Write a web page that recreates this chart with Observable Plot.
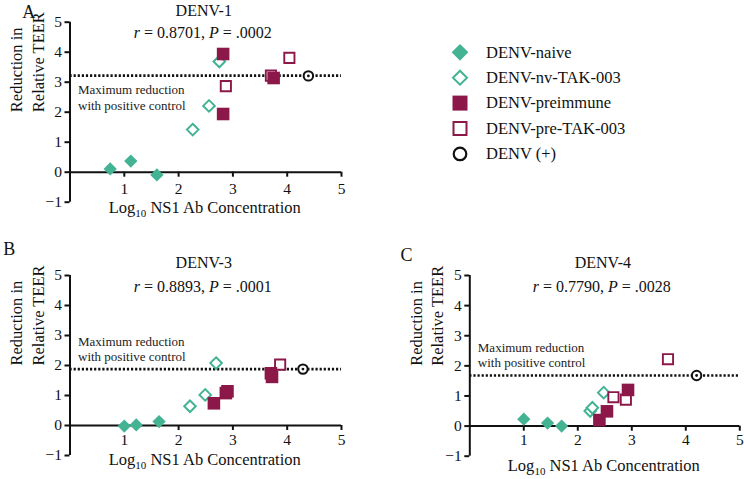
<!DOCTYPE html>
<html><head><meta charset="utf-8">
<script src="https://cdn.jsdelivr.net/npm/d3@7"></script>
<script src="https://cdn.jsdelivr.net/npm/@observablehq/plot@0.6"></script>
<style>
body{margin:0;background:#fff;}
#wrap{position:relative;width:744px;height:479px;font-family:'Times New Roman',Tinos,serif;color:#111;overflow:hidden;}
svg text{font-family:'Times New Roman',Tinos,serif;}
</style></head><body><div id="wrap"></div>
<script>
// ---------- data ----------
const seriesNames = ["DENV-naive", "DENV-nv-TAK-003", "DENV-preimmune", "DENV-pre-TAK-003", "DENV (+)"];
const panelLetters = ["A", "B", "C"];
const panelTitles = ["DENV-1", "DENV-3", "DENV-4"];
const panelR = ["0.8701", "0.8893", "0.7790"];
const panelP = [".0002", ".0001", ".0028"];
const maxReduction = [3.22, 1.88, 1.68];
const xTicks = [1, 2, 3, 4, 5];
const yTicks = [-1, 0, 1, 2, 3, 4, 5];
const xLabel = "Log10 NS1 Ab Concentration";
const yLabel = "Reduction in\nRelative TEER";
const annotation = "Maximum reduction\nwith positive control";

// [log10 NS1 Ab concentration, reduction in relative TEER]
const denv1Naive = [[0.74, 0.11], [1.12, 0.37], [1.60, -0.09]];
const denv1NvTak = [[2.26, 1.42], [2.56, 2.21], [2.75, 3.69]];
const denv1Preimmune = [[2.82, 3.94], [2.82, 1.94], [3.75, 3.14]];
const denv1PreTak = [[2.87, 2.87], [3.70, 3.22], [4.04, 3.81]];
const denv1Pos = [[4.39, 3.21]];

const denv3Naive = [[1.00, -0.02], [1.22, 0.02], [1.64, 0.13]];
const denv3NvTak = [[2.21, 0.64], [2.49, 1.02], [2.69, 2.08]];
const denv3Preimmune = [[2.65, 0.74], [2.87, 1.08], [2.90, 1.14], [3.70, 1.74], [3.72, 1.62]];
const denv3PreTak = [[3.87, 2.03]];
const denv3Pos = [[4.29, 1.88]];

const denv4Naive = [[1.00, 0.23], [1.44, 0.10], [1.70, 0.00]];
const denv4NvTak = [[2.23, 0.50], [2.27, 0.61], [2.48, 1.11]];
const denv4Preimmune = [[2.40, 0.20], [2.54, 0.49], [2.93, 1.20]];
const denv4PreTak = [[2.66, 0.96], [2.89, 0.88], [3.67, 2.22]];
const denv4Pos = [[4.20, 1.68]];

// ---------- styles / layout ----------
const FONT = "'Times New Roman', Tinos, serif";
const teal = "#43b394";
const maroon = "#8b1849";
const panelData = [
  [denv1Naive, denv1NvTak, denv1Preimmune, denv1PreTak, denv1Pos],
  [denv3Naive, denv3NvTak, denv3Preimmune, denv3PreTak, denv3Pos],
  [denv4Naive, denv4NvTak, denv4Preimmune, denv4PreTak, denv4Pos]
];
const layout = [
  {left: 0, top: 0, width: 372, height: 240, ml: 69.5, mr: 31, yTop: 21.7, yBottom: 201.7, y0: 171.7,
   titleDy: -6.7, statDy: 15.6, xTickPad: 5.4, xLabelDy: 40.6, annBelow: true, letterDx: -47.8, letterDy: -4.4},
  {left: 0, top: 240, width: 372, height: 239, ml: 69.5, mr: 31, yTop: 35, yBottom: 215, y0: 185,
   titleDy: -7.7, statDy: 16.7, xTickPad: 3, xLabelDy: 39, annBelow: false, letterDx: -66.8, letterDy: -21},
  {left: 400, top: 240, width: 344, height: 239, ml: 69.3, mr: 4.7, yTop: 35, yBottom: 215.7, y0: 185.7,
   titleDy: -7.7, statDy: 16.7, xTickPad: 3, xLabelDy: 44.3, annBelow: false, letterDx: -69.3, letterDy: -15}
];

const wrap = document.getElementById("wrap");
const X = d => d[0], Y = d => d[1];

layout.forEach((L, i) => {
  const [naive, nvTak, preimmune, preTak, pos] = panelData[i];
  const chart = Plot.plot({
    width: L.width,
    height: L.height,
    marginLeft: L.ml,
    marginRight: L.mr,
    marginTop: L.yTop,
    marginBottom: L.height - L.y0,
    x: {domain: [0, 5], axis: null},
    y: {domain: [yTicks[0], yTicks[yTicks.length - 1]], range: [L.yBottom, L.yTop], axis: null},
    style: {fontFamily: FONT, fontSize: "15px", color: "#111", background: "transparent", overflow: "visible"},
    marks: [
      Plot.ruleX([0], {y1: yTicks[0], y2: yTicks[yTicks.length - 1], stroke: "#111", strokeWidth: 2}),
      Plot.ruleY([0], {stroke: "#111", strokeWidth: 2}),
      Plot.axisY(yTicks, {tickSize: 5, tickPadding: 3, strokeWidth: 2, fontSize: 15.5, fontFamily: FONT, label: null}),
      Plot.axisX(xTicks, {tickSize: 5, tickPadding: L.xTickPad, strokeWidth: 2, fontSize: 15.5, fontFamily: FONT, label: null}),
      Plot.ruleY([maxReduction[i]], {stroke: "#111", strokeWidth: 2.6, strokeDasharray: "2.2,1.9"}),
      Plot.text([annotation], {x: 0, y: maxReduction[i], dx: 8, dy: L.annBelow ? 7.8 : -8, fontFamily: FONT,
        textAnchor: "start", lineAnchor: L.annBelow ? "top" : "bottom", lineHeight: 1.2, fontSize: 13, fill: "#222"}),
      Plot.text([panelTitles[i]], {frameAnchor: "top", dx: -2, dy: L.titleDy, lineAnchor: "bottom", fontSize: 16, fontFamily: FONT}),
      Plot.text([`r = ${panelR[i]}, P = ${panelP[i]}`], {frameAnchor: "top", dx: -3, dy: L.statDy, lineAnchor: "bottom", fontSize: 16, fontFamily: FONT}),
      Plot.text([xLabel], {frameAnchor: "bottom", dx: -1, dy: L.xLabelDy, lineAnchor: "bottom", fontSize: 16.5, fontFamily: FONT}),
      Plot.text([yLabel], {frameAnchor: "left", dx: -43.8, dy: 15, rotate: -90, lineHeight: 1.28, fontSize: 16.5, fontFamily: FONT}),
      Plot.text([panelLetters[i]], {frameAnchor: "top-left", dx: L.letterDx, dy: L.letterDy, lineAnchor: "bottom", textAnchor: "start", fontSize: 18, fontFamily: FONT}),
      Plot.dot(naive, {x: X, y: Y, symbol: "diamond2", r: 6.0, fill: teal, stroke: "none"}),
      Plot.dot(nvTak, {x: X, y: Y, symbol: "diamond2", r: 5.2, fill: "white", stroke: teal, strokeWidth: 2}),
      Plot.dot(preTak, {x: X, y: Y, symbol: "square", r: 5.75, fill: "white", stroke: maroon, strokeWidth: 1.9}),
      Plot.dot(preimmune, {x: X, y: Y, symbol: "square", r: 7.1, fill: maroon, stroke: "none"}),
      Plot.dot(pos, {x: X, y: Y, symbol: "circle", r: 4.7, fill: "white", stroke: "#111", strokeWidth: 2}),
      Plot.dot(pos, {x: X, y: Y, symbol: "circle", r: 1.4, fill: "#111", stroke: "none"})
    ]
  });
  chart.style.position = "absolute";
  chart.style.left = L.left + "px";
  chart.style.top = L.top + "px";
  // italic r / P and subscript 10
  d3.select(chart).selectAll("text").each(function () {
    const t = this.textContent;
    if (t === `r = ${panelR[i]}, P = ${panelP[i]}`) {
      const s = d3.select(this).text(null);
      s.append("tspan").attr("font-style", "italic").text("r");
      s.append("tspan").text(` = ${panelR[i]}, `);
      s.append("tspan").attr("font-style", "italic").text("P");
      s.append("tspan").text(` = ${panelP[i]}`);
    } else if (t === xLabel) {
      const s = d3.select(this).text(null);
      s.append("tspan").text("Log");
      s.append("tspan").attr("dy", 4).attr("font-size", 11).text("10");
      s.append("tspan").attr("dy", -4).text(" NS1 Ab Concentration");
    }
  });
  wrap.appendChild(chart);
});

// ---------- legend ----------
const legendStyles = [
  {symbol: d3.symbolDiamond2, size: 177, fill: teal, stroke: "none", sw: 0},
  {symbol: d3.symbolDiamond2, size: 125, fill: "white", stroke: teal, sw: 2},
  {symbol: d3.symbolSquare, size: 225, fill: maroon, stroke: "none", sw: 0},
  {symbol: d3.symbolSquare, size: 169, fill: "white", stroke: maroon, sw: 2},
  {symbol: d3.symbolCircle, size: Math.PI * 6.3 * 6.3, fill: "white", stroke: "#111", sw: 2.2}
];
const leg = d3.select(wrap).append("svg")
  .attr("width", 300).attr("height", 150)
  .style("position", "absolute").style("left", "440px").style("top", "35px")
  .style("font-family", FONT).style("font-size", "16.5px");
const rows = leg.selectAll("g").data(seriesNames).join("g")
  .attr("transform", (d, k) => `translate(20,${17.3 + k * 25.4})`);
rows.append("path")
  .attr("d", (d, k) => d3.symbol(legendStyles[k].symbol, legendStyles[k].size)())
  .attr("fill", (d, k) => legendStyles[k].fill)
  .attr("stroke", (d, k) => legendStyles[k].stroke)
  .attr("stroke-width", (d, k) => legendStyles[k].sw);
rows.append("text").attr("x", 26).attr("dy", "0.32em").attr("fill", "#111")
  .style("font-family", FONT).text(d => d);
</script>
</body></html>
